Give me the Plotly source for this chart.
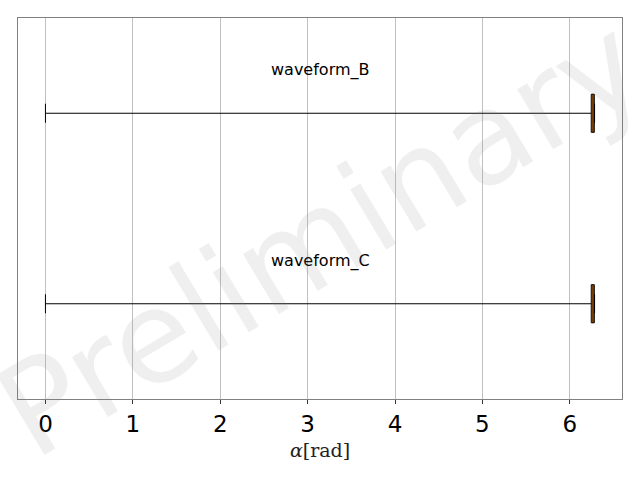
import plotly.graph_objects as go

names = ["waveform_B", "waveform_C"]
positions = [1, 2]
lowerfence = [0.0, 0.0]
q1 = [6.245, 6.245]
median = [6.265, 6.265]
q3 = [6.280, 6.280]
upperfence = [6.2832, 6.2832]
xticks = [0, 1, 2, 3, 4, 5, 6]

fig = go.Figure()
for i, n in enumerate(names):
    fig.add_trace(go.Box(
        orientation="h", y=[positions[i]], q1=[q1[i]], median=[median[i]], q3=[q3[i]],
        lowerfence=[lowerfence[i]], upperfence=[upperfence[i]],
        width=0.2, whiskerwidth=0.5, fillcolor="#ff7f0e",
        line=dict(color="black", width=1), boxpoints=False, name=n, showlegend=False,
        hoverinfo="skip"))
    fig.add_annotation(x=3.1416, y=positions[i] - 0.226, xref="x", yref="y", text=n,
                       showarrow=False, font=dict(family="DejaVu Sans", size=16, color="black"))

fig.add_annotation(x=0.5, y=0.425, xref="paper", yref="paper", text="Preliminary",
                   showarrow=False, textangle=-31,
                   font=dict(family="DejaVu Sans", size=128, color="rgba(128,128,128,0.13)"))

fig.update_layout(
    width=640, height=480, margin=dict(l=18, r=18, t=18, b=81),
    paper_bgcolor="white", plot_bgcolor="white",
    xaxis=dict(range=[-0.314, 6.597], tickvals=xticks, ticks="outside", ticklen=4,
               tickcolor="#333333", showgrid=True, gridcolor="#c0c0c0", gridwidth=1,
               zeroline=False, showline=True, linecolor="#808080", linewidth=1, mirror=True,
               tickfont=dict(family="DejaVu Sans", size=23, color="black"),
               title=dict(text="<i>α</i>[rad]", font=dict(family="DejaVu Serif", size=19, color="#222222"),
                          standoff=8)),
    yaxis=dict(range=[2.5, 0.5], showticklabels=False, ticks="", showgrid=False, zeroline=False,
               showline=True, linecolor="#808080", linewidth=1, mirror=True),
)
fig.write_html("out.html")
